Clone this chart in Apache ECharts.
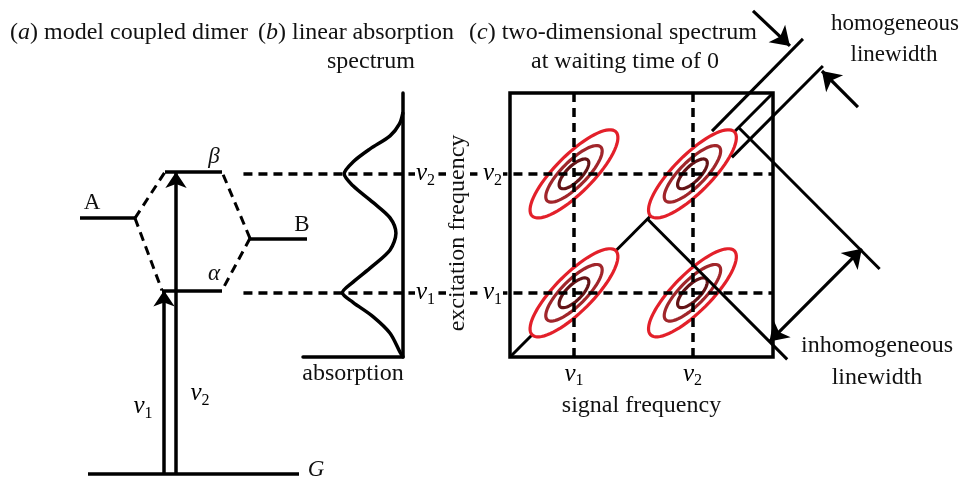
<!DOCTYPE html>
<html><head><meta charset="utf-8">
<script src="https://cdn.jsdelivr.net/npm/echarts@6/dist/echarts.min.js"></script>
<style>html,body{margin:0;padding:0;background:#fff}#c{width:966px;height:479px}</style>
</head><body><div id="c"></div>
<script>
// ---------------- data ----------------
const FONT = 'Liberation Serif';
const nu = [1, 2];                 // transition frequencies nu1, nu2 (arbitrary units)
const nuSub = ['1', '2'];          // tick label subscripts
// (a) model coupled dimer: level energies (arbitrary units)
const levelNames  = ['G', 'α', 'β', 'A', 'B'];
const levelEnergy = [0, 1.55, 2.55, 2.16, 1.99];
// (b) linear absorption spectrum
const specFreq = [0.46, 0.50, 0.66, 0.80, 0.92, 1.00, 1.09, 1.22, 1.36, 1.50, 1.63, 1.76, 1.90, 2.00, 2.10, 2.21, 2.32, 2.42, 2.52];
const specAbs  = [0.00, 0.05, 0.22, 0.51, 0.85, 1.03, 0.85, 0.53, 0.22, 0.12, 0.22, 0.51, 0.85, 1.00, 0.85, 0.56, 0.22, 0.06, 0.00];
// (c) 2D spectrum contours (semi-axes along / across the diagonal, frequency units)
const contourMajor = [0.50, 0.32, 0.165];
const contourMinor = [0.158, 0.105, 0.065];
const contourColor = ['#e3202a', '#a1262b', '#641417'];

// ---------------- layout helpers ----------------
const lw = 3.5;
const black = '#000';
const dash = [9, 6];
function seg(a, b) { return { coords: [a, b] }; }

// panel (a) horizontal spans (schematic positions)
const span = { 'G': [0.8, 21.9], 'α': [8.2, 14.2], 'β': [8.5, 14.2], 'A': [0, 5.5], 'B': [17, 22.7] };
const E = {}; levelNames.forEach((n, i) => E[n] = levelEnergy[i]);
const levelSegs = levelNames.map(n => seg([span[n][0], E[n]], [span[n][1], E[n]]));
const connSegs = [
  seg([span.A[1], E.A], [span['β'][0], E['β']]),
  seg([span.A[1], E.A], [span['α'][0], E['α']]),
  seg([span.B[0], E.B], [span['β'][1], E['β']]),
  seg([span.B[0], E.B], [span['α'][1], E['α']])
];
const arrowSegs = [seg([8.4, E.G], [8.4, E['α']]), seg([9.6, E.G], [9.6, E['β']])];
const labelPts = [
  [1.2, E.A + 0.13, 'A'], [22.2, E.B + 0.11, 'B'], [13.4, E['β'] + 0.13, 'β'], [13.4, E['α'] + 0.14, 'α'],
  [23.6, E.G + 0.03, 'G'], [6.3, 0.57, 'ν1'], [12.0, 0.68, 'ν2']
];

// panel (c)
const fmin = 0.46, fmax = 2.68;
const ellipseData = [];
contourMajor.forEach((a, k) => {
  nu.forEach(sx => nu.forEach(sy => ellipseData.push([sx, sy, a, contourMinor[k], k])));
});
const dashV = nu.map(v => seg([v, fmin], [v, fmax]));
const dashH = nu.map(v => seg([-1.79, v], [fmax, v]));
const diagSeg = [seg([fmin, fmin], [fmax, fmax])];
const markerSegs = [
  seg([1.62, 1.62], [2.80, 0.44]),
  seg([2.39, 2.39], [3.58, 1.20]),
  seg([2.165, 2.359], [2.933, 3.135]),
  seg([2.333, 2.139], [3.101, 2.907])
];
const homArrows = [seg([2.511, 3.371], [2.823, 3.076]), seg([3.397, 2.561], [3.093, 2.865])];
const inhomArrow = [seg([2.65, 0.59], [3.43, 1.37])];

const richNu = {
  v: { fontFamily: FONT, fontStyle: 'italic', fontSize: 25, lineHeight: 30, color: black },
  s: { fontFamily: FONT, fontSize: 16, lineHeight: 12, verticalAlign: 'bottom', color: black }
};
function nuFmt(val) {
  const i = nu.indexOf(Math.round(val * 1000) / 1000);
  return '{v|ν}{s|' + (i >= 0 ? nuSub[i] : '') + '}';
}

function txt(text, x, y, align, size, rich) {
  return {
    type: 'text', x: x, y: y, z: 100,
    style: {
      text: text, fill: '#111', fontFamily: FONT, fontSize: size,
      align: align, textAlign: align, verticalAlign: 'middle', textVerticalAlign: 'middle',
      rich: rich || {}
    }
  };
}
const richI = { i: { fontFamily: FONT, fontSize: 24, fontStyle: 'italic', fill: '#111', color: '#111' } };

function linesSeries(data, xi, opt) {
  opt = opt || {};
  const ls = Object.assign({ color: black, width: lw, opacity: 1, curveness: 0 }, opt.lineStyle || {});
  const s = Object.assign({
    type: 'lines', coordinateSystem: 'cartesian2d', xAxisIndex: xi, yAxisIndex: xi,
    clip: false, silent: true, animation: false, z: 4,
    symbol: ['none', 'none'],
    data: data
  }, opt);
  s.lineStyle = ls;
  return s;
}

const axisFont = { fontFamily: FONT, fontSize: 24, color: '#111' };

const option = {
  animation: false,
  grid: [
    { left: 80, top: 95, width: 240, height: 379 },
    { left: 303, top: 93, width: 100, height: 264 },
    { left: 510, top: 93, width: 263, height: 264, show: true, borderColor: black, borderWidth: lw, backgroundColor: 'transparent' }
  ],
  xAxis: [
    { gridIndex: 0, type: 'value', min: 0, max: 24, show: false },
    { gridIndex: 1, type: 'value', min: 0, max: 1.7, inverse: true, z: 10,
      axisLine: { show: true, lineStyle: { color: black, width: lw } }, axisTick: { show: false },
      axisLabel: { show: false }, splitLine: { show: false },
      name: 'absorption', nameLocation: 'middle', nameGap: 5,
      nameTextStyle: Object.assign({ verticalAlign: 'top' }, axisFont) },
    { gridIndex: 2, type: 'value', min: fmin, max: fmax, z: 10,
      axisLine: { show: false }, axisTick: { show: false }, splitLine: { show: false },
      axisLabel: { customValues: nu, formatter: nuFmt, rich: richNu, margin: 2 },
      name: 'signal frequency', nameLocation: 'middle', nameGap: 28,
      nameTextStyle: Object.assign({ verticalAlign: 'top' }, axisFont) }
  ],
  yAxis: [
    { gridIndex: 0, type: 'value', min: 0, max: 3.2, show: false },
    { gridIndex: 1, type: 'value', min: fmin, max: fmax, position: 'right', z: 10,
      axisLine: { show: true, lineStyle: { color: black, width: lw } }, axisTick: { show: false },
      splitLine: { show: false },
      axisLabel: { customValues: nu, formatter: nuFmt, rich: richNu, margin: 12, backgroundColor: '#fff', padding: [0, 1, 0, 1] } },
    { gridIndex: 2, type: 'value', min: fmin, max: fmax, z: 10,
      axisLine: { show: false }, axisTick: { show: false }, splitLine: { show: false },
      axisLabel: { customValues: nu, formatter: nuFmt, rich: richNu, margin: 7, backgroundColor: '#fff', padding: [0, 1, 0, 1] },
      name: 'excitation frequency', nameLocation: 'middle', nameGap: 40, nameRotate: 90,
      nameTextStyle: Object.assign({ backgroundColor: '#fff', padding: [0, 18, 0, 2] }, axisFont) }
  ],
  graphic: [
    txt('({i|a}) model coupled dimer', 10, 33, 'left', 24, richI),
    txt('({i|b}) linear absorption', 258, 33, 'left', 24, richI),
    txt('spectrum', 371, 62, 'center', 24),
    txt('({i|c}) two-dimensional spectrum', 613, 33, 'center', 24, richI),
    txt('at waiting time of 0', 625, 62, 'center', 24),
    txt('homogeneous', 895, 24, 'center', 23),
    txt('linewidth', 894, 55, 'center', 23),
    txt('inhomogeneous', 877, 346, 'center', 24),
    txt('linewidth', 877, 378, 'center', 24)
  ],
  series: [
    // panel (a)
    linesSeries(levelSegs, 0),
    linesSeries(connSegs, 0, { lineStyle: { width: 3, type: dash } }),
    linesSeries(arrowSegs, 0, { symbol: ['none', 'arrow'], symbolSize: 16 }),
    { type: 'scatter', xAxisIndex: 0, yAxisIndex: 0, symbolSize: 0, silent: true, z: 6,
      itemStyle: { opacity: 1, color: black },
      data: labelPts,
      label: { show: true, position: 'inside', color: '#111', opacity: 1,
        formatter: p => {
          const t = p.data[2];
          if (t[0] === 'ν') return '{v|ν}{s|' + t.slice(1) + '}';
          if (t === 'G' || t === 'α' || t === 'β') return '{it|' + t + '}';
          return '{r|' + t + '}';
        },
        rich: Object.assign({
          it: { fontFamily: FONT, fontStyle: 'italic', fontSize: 23, color: '#111' },
          r: { fontFamily: FONT, fontSize: 23, color: '#111' }
        }, richNu) } },
    // panel (b)
    { type: 'line', xAxisIndex: 1, yAxisIndex: 1, showSymbol: false, smooth: 0.3, silent: true, z: 5,
      lineStyle: { color: black, width: lw }, data: specFreq.map((f, i) => [specAbs[i], f]) },
    // panel (c)
    linesSeries(diagSeg, 2, { z: 1, lineStyle: { width: 3 } }),
    { type: 'custom', xAxisIndex: 2, yAxisIndex: 2, z: 2, silent: true, clip: false,
      data: ellipseData,
      renderItem: function (params, api) {
        const cx = api.value(0), cy = api.value(1), a = api.value(2), b = api.value(3), k = api.value(4);
        const pts = [];
        const r = Math.SQRT1_2;
        for (let j = 0; j < 72; j++) {
          const t = j / 72 * Math.PI * 2;
          const u = a * Math.cos(t), w = b * Math.sin(t);
          pts.push(api.coord([cx + (u - w) * r, cy + (u + w) * r]));
        }
        return { type: 'polygon', shape: { points: pts }, style: { fill: '#fff', stroke: contourColor[k], lineWidth: 3.2 } };
      } },
    linesSeries(dashV.concat(dashH), 2, { z: 3, lineStyle: { type: dash } }),
    linesSeries(markerSegs, 2, { z: 4, lineStyle: { width: 3 } }),
    linesSeries(homArrows, 2, { z: 4, symbol: ['none', 'arrow'], symbolSize: 18, lineStyle: { width: 3.2 } }),
    linesSeries(inhomArrow, 2, { z: 4, symbol: ['arrow', 'arrow'], symbolSize: 18, lineStyle: { width: 3.2 } })
  ]
};
const chart = echarts.init(document.getElementById('c'), null, { renderer: 'canvas' });
chart.setOption(option);
</script></body></html>
